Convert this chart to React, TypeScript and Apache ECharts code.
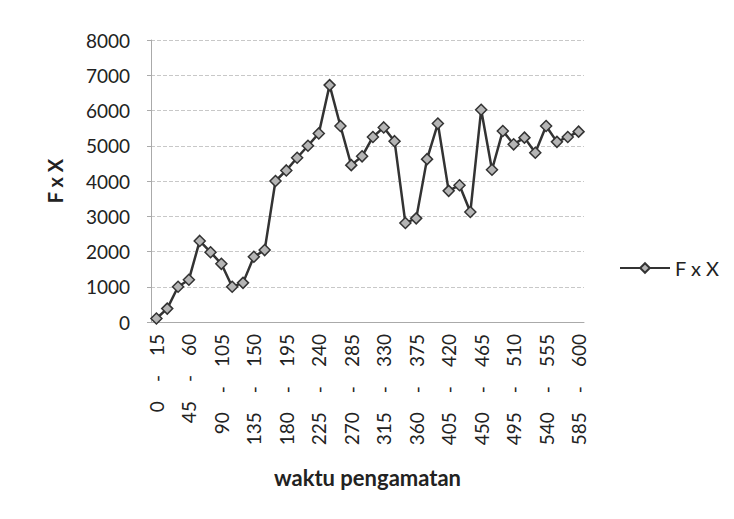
import React, { useEffect, useRef } from "react";
import * as echarts from "echarts";

const categories = [
  "0 - 15", "15 - 30", "30 - 45", "45 - 60", "60 - 75", "75 - 90", "90 - 105", "105 - 120",
  "120 - 135", "135 - 150", "150 - 165", "165 - 180", "180 - 195", "195 - 210", "210 - 225",
  "225 - 240", "240 - 255", "255 - 270", "270 - 285", "285 - 300", "300 - 315", "315 - 330",
  "330 - 345", "345 - 360", "360 - 375", "375 - 390", "390 - 405", "405 - 420", "420 - 435",
  "435 - 450", "450 - 465", "465 - 480", "480 - 495", "495 - 510", "510 - 525", "525 - 540",
  "540 - 555", "555 - 570", "570 - 585", "585 - 600",
];

const fxValues = [
  100, 380, 1000, 1200, 2300, 1980, 1650, 1000, 1110, 1850,
  2040, 4000, 4300, 4660, 5000, 5350, 6720, 5560, 4450, 4700,
  5250, 5520, 5130, 2810, 2940, 4620, 5630, 3720, 3880, 3120,
  6020, 4320, 5420, 5040, 5230, 4800, 5560, 5110, 5250, 5400,
];

const seriesName = "F x X";
const xAxisTitle = "waktu pengamatan";
const yAxisTitle = "F x X";

export default function App() {
  const ref = useRef<HTMLDivElement>(null);
  useEffect(() => {
    if (!ref.current) return;
    const chart = echarts.init(ref.current, undefined, { renderer: "svg" });
    const font = "Lato, 'Open Sans', sans-serif";
    chart.setOption({
      animation: false,
      backgroundColor: "#ffffff",
      textStyle: { fontFamily: font },
      grid: { left: 151, right: 150, top: 40, bottom: 197 },
      legend: {
        orient: "vertical",
        left: 614,
        top: 253,
        itemWidth: 50,
        itemHeight: 12,
        itemGap: 4,
        textStyle: { fontSize: 20, color: "#222", fontFamily: font },
        data: [seriesName],
      },
      xAxis: {
        type: "category",
        data: categories,
        boundaryGap: true,
        name: xAxisTitle,
        nameLocation: "middle",
        nameGap: 144,
        nameTextStyle: { fontSize: 22, fontWeight: "bold", color: "#222", fontFamily: font },
        axisLine: { lineStyle: { color: "#aaa" } },
        axisTick: { show: false },
        axisLabel: {
          interval: 2,
          rotate: 90,
          fontSize: 19,
          color: "#222",
          margin: 12,
          fontFamily: font,
          formatter: (v: string) => v.replace(" - ", "\u2003\u2009\u2009-\u2003\u2009\u2009"),
        },
      },
      yAxis: {
        type: "value",
        min: 0,
        max: 8000,
        interval: 1000,
        name: yAxisTitle,
        nameLocation: "middle",
        nameGap: 86,
        nameRotate: 90,
        nameTextStyle: { fontSize: 20, fontWeight: "bold", color: "#222", fontFamily: font },
        axisLine: { show: true, lineStyle: { color: "#aaa" } },
        axisTick: { show: true, length: 4, lineStyle: { color: "#aaa" } },
        axisLabel: {
          fontSize: 19,
          color: "#222",
          margin: 21,
          fontFamily: font,
          formatter: (v: number) => String(v),
        },
        splitLine: { lineStyle: { color: "#c8c8c8", type: "dashed", width: 1 } },
      },
      series: [
        {
          name: seriesName,
          type: "line",
          data: fxValues,
          symbol: "diamond",
          symbolSize: 11,
          showAllSymbol: true,
          lineStyle: { color: "#333", width: 2.5 },
          itemStyle: { color: "#b5b5b5", borderColor: "#333", borderWidth: 1.5 },
        },
      ],
    });
    return () => chart.dispose();
  }, []);
  return (
    <div
      ref={ref}
      style={{ position: "fixed", left: 0, top: 0, width: 734, height: 519 }}
    />
  );
}
